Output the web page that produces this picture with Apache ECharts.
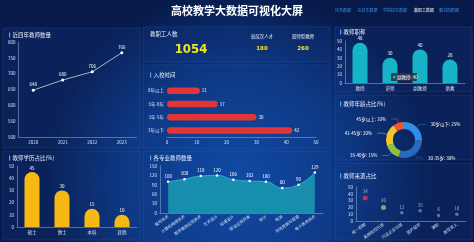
<!DOCTYPE html>
<html>
<head>
<meta charset="utf-8">
<script src="https://cdn.jsdelivr.net/npm/echarts@6/dist/echarts.min.js"></script>
<style>
  html, body { margin: 0; padding: 0; background: #081d52; }
  #main { width: 474px; height: 242px; }
</style>
</head>
<body>
<div id="main"></div>
<script>
// ---- data ----
var years = ['2020', '2021', '2022', '2023'];
var teacherCounts = [648, 680, 706, 766];

var joinCats = ['3年以下', '3年-5年', '5年-8年', '8年以上'];
var joinVals = [42, 30, 17, 11];

var titleCats = ['教授', '讲师', '副教授', '助教'];
var titleVals = [48, 30, 40, 28];

var ageNames = ['30岁以下', '30-35岁', '35-40岁', '41-45岁', '45岁以上'];
var ageVals = [25, 30, 15, 20, 10];

var eduCats = ['硕士', '博士', '本科', '其他'];
var eduVals = [45, 30, 15, 10];

var majorCats = ['软件技术', '计算机网络技术', '数字媒体应用技术', '艺术设计', '动漫设计',
                 '移动应用开发', '会计', '物流', '市场营销与管理', '电子商务技术'];
var majorVals = [100, 108, 118, 120, 106, 102, 100, 80, 90, 129];

var sourceCats = ['统一招聘', '其他院校引进', '行业企业引进', '国外留学', '兼职', '退役军人'];
var sourceVals = [34, 20, 12, 15, 8, 10];

var statLabels = ['教职工人数', '高层次人才', '双师型教师'];
var statVals = ['1054', '180', '260'];

var navItems = ['综合数据', '在校生数据', '学院招生数据', '教职工数据', '图书馆数据'];

// ---- style bits ----
var axisCol = '#7f9fd6';
var labCol = '#d6e2f5';
var fs = 4.5;
var pointCols = ['#e3364b', '#8fd16a', '#5b8fd6', '#5b8fd6', '#5b8fd6', '#5b8fd6'];
var pointSizes = [5, 5, 3.5, 3.5, 3.5, 3.5];
var pieCols = ['#2f8fe8', '#2a68c0', '#8cc33f', '#f5c52a', '#f0562a'];

var myChart = echarts.init(document.getElementById('main'));

function panel(x, y, w, h) {
    return {
        type: 'rect', silent: true, z: -10,
        shape: { x: x, y: y, width: w, height: h },
        style: { fill: 'rgba(25,70,160,0.18)', stroke: 'rgba(70,130,230,0.3)', lineWidth: 0.6 }
    };
}
function ptitle(x, y, text) {
    return [{
        type: 'rect', silent: true,
        shape: { x: x, y: y - 2.5, width: 1.2, height: 5 },
        style: { fill: '#4aa3ff' }
    }, {
        type: 'text', silent: true, x: x + 3.5, y: y,
        style: { text: text, fill: '#e8efff', font: '5.5px "Noto Sans CJK SC"', textVerticalAlign: 'middle' }
    }];
}
function catAxis(idx, data, extra) {
    var a = {
        type: 'category', gridIndex: idx, data: data,
        axisLine: { lineStyle: { color: axisCol, width: 0.6 } },
        axisTick: { show: false },
        axisLabel: { color: labCol, fontSize: fs, margin: 3, fontFamily: 'Noto Sans CJK SC' },
        splitLine: { show: false }
    };
    return Object.assign(a, extra || {});
}
function valAxis(idx, min, max, interval, extra) {
    var a = {
        type: 'value', gridIndex: idx, min: min, max: max, interval: interval,
        axisLine: { show: true, lineStyle: { color: axisCol, width: 0.6 } },
        axisTick: { show: false },
        axisLabel: { color: labCol, fontSize: fs, margin: 3 },
        splitLine: { show: false }
    };
    return Object.assign(a, extra || {});
}
var valLabel = { show: true, color: '#ffffff', fontSize: fs, distance: 2 };

var graphics = [
    panel(3, 28, 137, 120),
    panel(143, 27, 187, 35),
    panel(143, 65, 187, 83),
    panel(335, 27, 137, 65),
    panel(335, 95, 137, 65),
    panel(3, 151, 137, 89),
    panel(143, 151, 187, 89),
    panel(335, 163, 137, 77),
    { type: 'text', silent: true, x: 237, y: 11,
      style: { text: '高校教学大数据可视化大屏', fill: '#ffffff', font: 'bold 11px "Noto Sans CJK SC"',
               textAlign: 'center', textVerticalAlign: 'middle' } }
];
var navX = [343, 367.5, 395, 424, 449];
navItems.forEach(function (t, i) {
    graphics.push({ type: 'text', silent: true, x: navX[i], y: 10,
        style: { text: t, fill: i === 3 ? '#ffffff' : '#3d8ee8', font: '4px "Noto Sans CJK SC"',
                 textAlign: 'center', textVerticalAlign: 'middle' } });
});
graphics = graphics.concat(ptitle(9, 35, '近四年教师数量'));
graphics = graphics.concat(ptitle(150, 75, '入校时间'));
graphics = graphics.concat(ptitle(340, 32, '教师职称'));
graphics = graphics.concat(ptitle(340, 104, '教师年龄占比(%)'));
graphics = graphics.concat(ptitle(9, 158, '教师学历占比(%)'));
graphics = graphics.concat(ptitle(150, 158, '各专业教师数量'));
graphics = graphics.concat(ptitle(340, 176, '教师来源占比'));

// stats row
graphics.push({ type: 'text', silent: true, x: 150, y: 34,
    style: { text: statLabels[0], fill: '#e8efff', font: '5.5px "Noto Sans CJK SC"', textVerticalAlign: 'middle' } });
graphics.push({ type: 'text', silent: true, x: 191, y: 50,
    style: { text: statVals[0], fill: '#f6e61c', font: 'bold 13px "Liberation Sans Narrow", "DejaVu Sans Condensed"',
             textAlign: 'center', textVerticalAlign: 'middle' } });
[[262, 1], [303, 2]].forEach(function (p) {
    graphics.push({ type: 'text', silent: true, x: p[0], y: 36,
        style: { text: statLabels[p[1]], fill: '#e8efff', font: '4.5px "Noto Sans CJK SC"',
                 textAlign: 'center', textVerticalAlign: 'middle' } });
    graphics.push({ type: 'text', silent: true, x: p[0], y: 49,
        style: { text: statVals[p[1]], fill: '#f6e61c', font: 'bold 5.5px "DejaVu Sans"',
                 textAlign: 'center', textVerticalAlign: 'middle' } });
});
// tooltip box in title chart
graphics.push({ type: 'rect', silent: true, z: 20, shape: { x: 391, y: 73, width: 26, height: 8, r: 1 },
    style: { fill: 'rgba(40,50,70,0.85)' } });
graphics.push({ type: 'rect', silent: true, z: 21, shape: { x: 393, y: 75.8, width: 2.4, height: 2.4 },
    style: { fill: '#1cb5c8' } });
graphics.push({ type: 'text', silent: true, z: 21, x: 397, y: 77,
    style: { text: '副教授: 40', fill: '#ffffff', font: '4.5px "Noto Sans CJK SC"', textVerticalAlign: 'middle' } });

var option = {
    backgroundColor: {
        type: 'radial', x: 0.5, y: 0.75, r: 0.8,
        colorStops: [
            { offset: 0, color: '#0f4ca8' },
            { offset: 0.6, color: '#0b347c' },
            { offset: 1, color: '#071a4a' }
        ]
    },
    animation: false,
    textStyle: { fontFamily: 'Noto Sans CJK SC' },
    graphic: graphics,
    grid: [
        { left: 18.5, top: 42, width: 118, height: 95, outerBoundsMode: 'none' },
        { left: 167, top: 84, width: 149, height: 53, outerBoundsMode: 'none' },
        { left: 345, top: 41, width: 120, height: 42, outerBoundsMode: 'none' },
        { left: 17, top: 166, width: 120, height: 61, outerBoundsMode: 'none' },
        { left: 160, top: 166, width: 163, height: 47, outerBoundsMode: 'none' },
        { left: 356, top: 187, width: 110, height: 34, outerBoundsMode: 'none' }
    ],
    xAxis: [
        catAxis(0, years),
        valAxis(1, 0, 50, 10),
        catAxis(2, titleCats),
        catAxis(3, eduCats),
        catAxis(4, majorCats, { axisLabel: { color: labCol, fontSize: 4, rotate: 35, margin: 3, interval: 0 } }),
        catAxis(5, sourceCats, { axisLabel: { color: labCol, fontSize: 4, rotate: 35, margin: 3, interval: 0 } })
    ],
    yAxis: [
        valAxis(0, 500, 800, 50),
        catAxis(1, joinCats, { axisLine: { show: false } }),
        valAxis(2, 0, 50, 10),
        valAxis(3, 0, 50, 10),
        valAxis(4, 0, 150, 30),
        valAxis(5, 0, 50, 10)
    ],
    series: [
        {
            type: 'line', xAxisIndex: 0, yAxisIndex: 0, data: teacherCounts,
            symbol: 'circle', symbolSize: 3,
            itemStyle: { color: '#ffffff' },
            lineStyle: { color: '#d0d8e4', width: 0.8 },
            label: valLabel
        },
        {
            type: 'bar', xAxisIndex: 1, yAxisIndex: 1, data: joinVals,
            barWidth: 6.5,
            itemStyle: { color: '#e23636', borderRadius: 4 },
            label: Object.assign({ position: 'right' }, valLabel)
        },
        {
            type: 'bar', xAxisIndex: 2, yAxisIndex: 2, data: titleVals,
            barWidth: 15,
            itemStyle: { color: '#17b3c6', borderRadius: [8, 8, 0, 0] },
            label: Object.assign({ position: 'top' }, valLabel)
        },
        {
            type: 'bar', xAxisIndex: 3, yAxisIndex: 3, data: eduVals,
            barWidth: 15,
            itemStyle: { color: '#f7b814', borderRadius: [8, 8, 0, 0] },
            label: Object.assign({ position: 'top' }, valLabel)
        },
        {
            type: 'line', xAxisIndex: 4, yAxisIndex: 4, data: majorVals,
            smooth: true, symbol: 'circle', symbolSize: 2.5,
            itemStyle: { color: '#ffffff' },
            lineStyle: { color: '#35c3d3', width: 0.8 },
            areaStyle: { color: '#1a9bb2', opacity: 0.85 },
            label: valLabel
        },
        {
            type: 'scatter', xAxisIndex: 5, yAxisIndex: 5,
            data: sourceVals.map(function (v, i) {
                return { value: v, symbolSize: pointSizes[i], itemStyle: { color: pointCols[i] } };
            }),
            label: Object.assign({ position: 'top' }, valLabel, { color: '#c8d6ee' })
        },
        {
            type: 'pie', center: [404, 140], radius: [11, 18],
            data: ageNames.map(function (n, i) {
                return { name: n, value: ageVals[i], itemStyle: { color: pieCols[i] } };
            }),
            label: { color: '#ffffff', fontSize: 4.5, formatter: '{b}: {c}%', overflow: 'none' },
            labelLine: { length: 4, length2: 6, lineStyle: { width: 0.5 } }
        }
    ]
};
myChart.setOption(option);
</script>
</body>
</html>
